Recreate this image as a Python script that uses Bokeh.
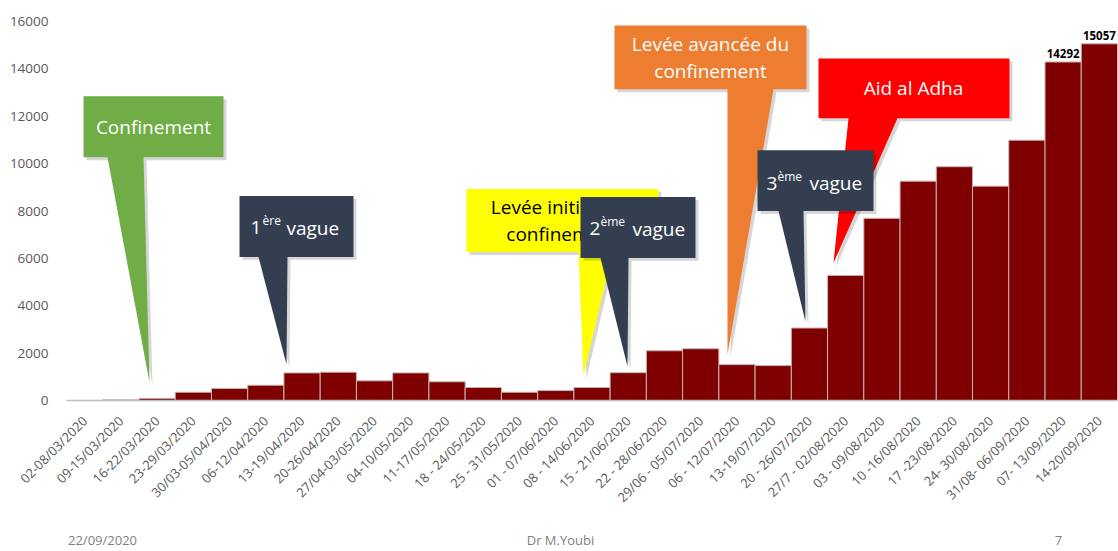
import math
from bokeh.plotting import figure
from bokeh.models import FixedTicker, Range1d, LinearAxis
from bokeh.core.properties import value
from bokeh.embed import file_html
from bokeh.resources import INLINE

weeks = ["02-08/03/2020", "09-15/03/2020", "16-22/03/2020", "23-29/03/2020",
         "30/03-05/04/2020", "06-12/04/2020", "13-19/04/2020", "20-26/04/2020",
         "27/04-03/05/2020", "04-10/05/2020", "11-17/05/2020", "18 - 24/05/2020",
         "25 - 31/05/2020", "01 - 07/06/2020", "08 - 14/06/2020", "15 - 21/06/2020",
         "22 - 28/06/2020", "29/06 - 05/07/2020", "06 - 12/07/2020", "13-19/07/2020",
         "20 - 26/07/2020", "27/7 - 02/08/2020", "03 - 09/08/2020", "10 -16/08/2020",
         "17 -23/08/2020", "24- 30/08/2020", "31/08- 06/09/2020", "07- 13/09/2020",
         "14-20/09/2020"]
cases = [1, 27, 90, 350, 505, 645, 1165, 1195, 830, 1165, 790, 550, 350, 420,
         550, 1175, 2100, 2185, 1515, 1475, 3060, 5280, 7690, 9260, 9870, 9050,
         10990, 14292, 15057]
labeled = [27, 28]
y_ticks = [0, 2000, 4000, 6000, 8000, 10000, 12000, 14000, 16000]
footer = ["22/09/2020", "Dr M.Youbi", "7"]

W, H = 1118, 551
LEFT, RIGHT, TOP, BOTTOM = 66, 1, 21, 150
FW = W - LEFT - RIGHT
FH = H - TOP - BOTTOM
N = len(weeks)
YMAX = 16000

# reference-pixel -> data helpers for annotations
def dx(px):
    return (px - LEFT) / (FW / N) - 0.5

def dy(py):
    return (TOP + FH - py) * YMAX / FH

p = figure(width=W, height=H, output_backend="svg", toolbar_location=None,
           x_range=Range1d(-0.5, N - 0.5), y_range=Range1d(0, YMAX),
           min_border_left=LEFT, min_border_right=RIGHT,
           min_border_top=TOP, min_border_bottom=BOTTOM)
p.outline_line_color = None
p.xgrid.grid_line_color = None
p.ygrid.grid_line_color = None
p.background_fill_color = "white"

idx = list(range(N))
p.vbar(x=idx, top=cases, width=1.0, fill_color="#7F0000", line_color="#C8B4B4",
       line_width=1)

# axes
p.yaxis.ticker = FixedTicker(ticks=y_ticks)
p.yaxis.axis_line_color = None
p.yaxis.major_tick_line_color = None
p.yaxis.minor_tick_line_color = None
p.yaxis.major_label_text_font = "Open Sans"
p.yaxis.major_label_text_font_size = "13.5px"
p.yaxis.major_label_text_color = "#595959"
p.yaxis.major_label_standoff = 12

p.xaxis.ticker = FixedTicker(ticks=idx)
p.xaxis.major_label_overrides = {i: w for i, w in enumerate(weeks)}
p.xaxis.axis_line_color = "#BFBFBF"
p.xaxis.axis_line_width = 1.5
p.xaxis.major_tick_line_color = None
p.xaxis.minor_tick_line_color = None
p.xaxis.major_label_orientation = math.pi / 4
p.xaxis.major_label_text_font = "Open Sans"
p.xaxis.major_label_text_font_size = "13px"
p.xaxis.major_label_text_color = "#595959"
p.xaxis.major_label_standoff = 12

# footer as a secondary bottom axis in pixel space
p.extra_x_ranges = {"page": Range1d(LEFT, W - RIGHT)}
foot_pos = [102, 560, 1058]
fax = LinearAxis(x_range_name="page", ticker=FixedTicker(ticks=foot_pos),
                 major_label_overrides={v: t for v, t in zip(foot_pos, footer)})
fax.axis_line_color = None
fax.major_tick_line_color = None
fax.minor_tick_line_color = None
fax.major_label_text_font = "Open Sans"
fax.major_label_text_font_size = "13px"
fax.major_label_text_color = "#7F7F7F"
fax.major_label_standoff = 9
p.add_layout(fax, "below")

# callouts: box (x0,y0,x1,y1), tail (base_left, base_right, tip_x, tip_y) in reference pixels
DARK = "#333F50"
BIG, SUP = 19, 12
callouts = [
    dict(color="#ED7D31", box=(614, 25, 806, 89), tail=(727, 773, 727, 355),
         texts=[("Levée avancée du", 710, 44, BIG, "center", "white"),
                ("confinement", 710, 71, BIG, "center", "white")]),
    dict(color="#FF0000", box=(818, 58, 1009, 118), tail=(848, 897, 833, 263),
         texts=[("Aid al Adha", 913, 88, BIG, "center", "white")]),
    dict(color="#FFFF00", box=(466, 189, 658, 252), tail=(578, 612, 583, 376),
         texts=[("Levée initiale du", 562, 207, BIG, "center", "black"),
                ("confinement", 562, 234, BIG, "center", "black")]),
    dict(color=DARK, box=(580, 197, 695, 258), tail=(600, 628, 627, 367),
         texts=[("2", 589, 229, BIG, "left", "white"),
                ("ème", 600, 222, SUP, "left", "white"),
                ("vague", 632, 229, BIG, "left", "white")]),
    dict(color=DARK, box=(757, 150, 873, 211), tail=(778, 803, 805, 322),
         texts=[("3", 766, 183, BIG, "left", "white"),
                ("ème", 777, 176, SUP, "left", "white"),
                ("vague", 809, 183, BIG, "left", "white")]),
    dict(color=DARK, box=(239, 196, 353, 257), tail=(258, 287, 286, 365),
         texts=[("1", 250, 228, BIG, "left", "white"),
                ("ère", 262, 221, SUP, "left", "white"),
                ("vague", 286, 228, BIG, "left", "white")]),
    dict(color="#70AD47", box=(83, 96, 223, 157), tail=(107, 143, 149, 383),
         texts=[("Confinement", 153, 127, BIG, "center", "white")]),
]

for c in callouts:
    x0, y0, x1, y1 = c["box"]
    bl, br, tx, ty = c["tail"]
    poly_x = [x0, x1, x1, br, tx, bl, x0]
    poly_y = [y0, y0, y1, y1, ty, y1, y1]
    # soft shadow
    p.patch([dx(v + 3) for v in poly_x], [dy(v + 3) for v in poly_y],
            fill_color="#000000", fill_alpha=0.16, line_color=None)
    p.patch([dx(v) for v in poly_x], [dy(v) for v in poly_y],
            fill_color=c["color"], line_color=None)
    for t, px, py, size, align, col in c["texts"]:
        p.text(x=[dx(px)], y=[dy(py)], text=[t], text_align=align,
               text_baseline="middle", text_color=col,
               text_font=value("Open Sans"), text_font_size=f"{size}px")

# data labels
p.text(x=labeled, y=[cases[i] for i in labeled],
       text=[str(cases[i]) for i in labeled], text_align="center",
       text_baseline="bottom", y_offset=-4, text_color="black",
       text_font=value("Open Sans"), text_font_style="bold",
       text_font_size="11.5px")

open("out.html", "w").write(file_html(p, INLINE))
